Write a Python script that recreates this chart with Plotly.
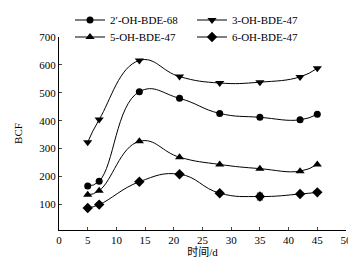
import plotly.graph_objects as go

days = [5, 7, 14, 21, 28, 35, 42, 45]
oh68_2 = [166, 183, 504, 480, 426, 412, 403, 423]
oh47_3 = [323, 404, 616, 558, 535, 538, 557, 588]
oh47_5 = [134, 149, 326, 269, 243, 228, 219, 243]
oh47_6 = [87, 99, 181, 208, 140, 128, 137, 143]
err_6 = [0, 0, 0, 0, 0, 12, 0, 0]

series = [
    ("2′-OH-BDE-68", oh68_2, "circle", 7, None, "legend"),
    ("3-OH-BDE-47", oh47_3, "triangle-down", 8, None, "legend2"),
    ("5-OH-BDE-47", oh47_5, "triangle-up", 8, None, "legend3"),
    ("6-OH-BDE-47", oh47_6, "diamond", 8, err_6, "legend4"),
]

font = "Liberation Serif, Times New Roman, Noto Sans CJK SC, serif"
fig = go.Figure()
for name, vals, sym, size, err, lg in series:
    fig.add_trace(go.Scatter(
        x=days, y=vals, name=name, mode="lines+markers", legend=lg,
        line=dict(color="black", width=1, shape="spline", smoothing=1.3),
        marker=dict(symbol=sym, size=size, color="black"),
        error_y=dict(type="data", array=err, color="black", thickness=1, width=3) if err else None,
    ))

L, R, T, B = 51, 18, 29, 37
PH = 259 - T - B
PW = 356 - L - R


def leg(xpx, ypx):
    return dict(orientation="h", x=(xpx - L) / PW, y=1 + (T - ypx) / PH,
                xanchor="left", yanchor="middle",
                font=dict(size=11, family=font), bgcolor="rgba(0,0,0,0)",
                itemwidth=30)


fig.update_layout(
    width=356, height=259,
    margin=dict(l=L, r=R, t=T, b=B, autoexpand=False),
    paper_bgcolor="white", plot_bgcolor="white",
    font=dict(family=font, size=11, color="black"),
    showlegend=True,
    legend=leg(62, 12),
    legend2=leg(184, 12),
    legend3=leg(62, 29),
    legend4=leg(184, 29),
    xaxis=dict(range=[0, 50], tickvals=list(range(0, 51, 5)), ticks="inside", ticklen=3,
               showline=True, linecolor="black", linewidth=1, showgrid=False, zeroline=False,
               title=dict(text="时间/d", standoff=2, font=dict(size=11))),
    yaxis=dict(range=[8, 700], tickvals=[100, 200, 300, 400, 500, 600, 700], ticks="inside", ticklen=3,
               showline=True, linecolor="black", linewidth=1, showgrid=False, zeroline=False,
               title=dict(text="BCF", standoff=14, font=dict(size=11))),
)
fig.write_html("out.html")
